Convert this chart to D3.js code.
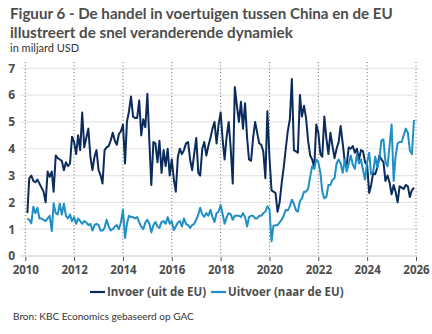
<!DOCTYPE html>
<html>
<head>
<meta charset="utf-8">
<title>Figuur 6</title>
<style>
  html, body { margin: 0; padding: 0; background: #fff; }
  svg { display: block; font-family: "Open Sans", "Noto Sans", sans-serif; }
</style>
</head>
<body>
<script src="https://cdn.jsdelivr.net/npm/d3@7"></script>
<script>
// monthly data, starting February 2010, in billion USD
var startMonth = new Date(2010, 1, 1);

var invoer = [
  1.6, 2.9, 3.0, 2.8, 2.75, 2.85, 2.7, 2.55, 2.4, 2.0, 3.15,            // 2010
  2.95, 3.15, 2.4, 3.75, 3.65, 3.6, 3.55, 3.2, 3.5, 3.35, 3.45, 4.45,   // 2011
  4.25, 3.8, 4.5, 3.95, 5.35, 4.05, 4.4, 4.75, 3.7, 3.2, 3.7, 3.95,     // 2012
  3.2, 3.0, 2.7, 3.95, 4.05, 4.1, 4.3, 4.6, 4.3, 4.15, 4.55, 4.65,      // 2013
  4.9, 3.45, 5.0, 5.4, 5.95, 5.2, 5.15, 5.15, 5.8, 4.5, 5.1, 4.8,       // 2014
  6.05, 4.2, 2.65, 4.25, 4.2, 3.5, 4.3, 3.1, 3.95, 3.35, 4.0, 3.0,      // 2015
  3.6, 2.85, 2.4, 3.7, 4.0, 3.8, 3.95, 4.2, 4.25, 3.6, 3.2, 3.8,        // 2016
  4.4, 3.1, 3.0, 4.0, 4.25, 3.75, 4.1, 4.4, 4.75, 5.0, 4.2, 4.9,        // 2017
  5.35, 4.3, 3.6, 4.45, 5.0, 4.0, 2.7, 6.3, 5.6, 5.0, 5.75, 4.75,       // 2018
  5.7, 4.4, 3.6, 3.55, 4.4, 5.0, 4.6, 4.2, 4.15, 3.9, 2.9, 5.4,         // 2019
  3.7, 2.45, 2.4, 2.35, 1.65, 2.0, 2.7, 3.3, 4.0, 4.65, 5.1, 6.6,       // 2020
  3.95, 3.9, 3.85, 6.0, 5.2, 5.6, 5.15, 4.3, 3.75, 3.6, 3.3, 4.9,       // 2021
  4.6, 3.8, 3.7, 5.2, 4.4, 3.8, 4.6, 4.1, 3.65, 4.0, 4.25, 4.85,        // 2022
  4.2, 3.5, 3.4, 4.05, 4.0, 4.1, 3.85, 4.0, 3.6, 3.95, 3.9, 3.5,        // 2023
  3.4, 2.35, 2.65, 3.1, 3.05, 3.3, 3.75, 3.6, 3.5, 2.8, 3.0, 2.75,      // 2024
  2.3, 2.65, 2.4, 2.0, 2.6, 2.55, 2.5, 2.65, 2.6, 2.2, 2.45, 2.55       // 2025
];

var uitvoer = [
  1.4, 1.35, 1.22, 1.84, 1.6, 1.8, 1.4, 1.4, 1.35, 1.3, 1.4,            // 2010
  1.5, 0.93, 1.97, 1.6, 1.55, 1.95, 1.55, 1.95, 1.5, 1.4, 1.55, 1.3,    // 2011
  1.45, 1.2, 1.4, 1.3, 1.2, 1.3, 1.25, 1.15, 1.2, 0.95, 1.15, 1.2,      // 2012
  1.15, 0.95, 0.95, 1.05, 1.35, 1.1, 0.95, 1.0, 1.1, 1.15, 1.0, 1.25,   // 2013
  1.72, 0.67, 1.2, 1.5, 1.45, 1.45, 1.4, 1.45, 1.25, 1.1, 1.0, 1.25,    // 2014
  1.35, 1.2, 0.88, 1.15, 1.27, 1.1, 1.05, 1.27, 1.3, 1.2, 1.45, 1.2,    // 2015
  1.3, 0.97, 1.1, 1.25, 1.3, 1.1, 1.4, 1.2, 1.15, 1.05, 1.15, 1.2,      // 2016
  1.35, 1.55, 1.8, 1.55, 1.46, 1.6, 1.5, 1.72, 1.46, 1.27, 1.6, 1.65,   // 2017
  1.9, 1.55, 1.2, 1.45, 1.6, 1.55, 1.35, 1.5, 1.5, 1.5, 1.45, 1.6,      // 2018
  1.45, 1.1, 1.45, 1.5, 1.5, 1.4, 1.4, 1.5, 1.5, 1.6, 1.65, 1.85,       // 2019
  1.75, 0.55, 1.13, 1.15, 1.15, 1.25, 1.35, 1.5, 1.72, 1.7, 1.85, 2.1,  // 2020
  1.95, 1.7, 1.65, 2.05, 2.15, 2.4, 2.4, 2.5, 2.95, 3.35, 3.25, 3.6,    // 2021
  3.5, 3.1, 2.4, 2.15, 2.2, 2.65, 2.65, 2.85, 2.9, 3.45, 3.6, 3.45,     // 2022
  3.1, 3.6, 3.15, 3.45, 3.75, 3.4, 3.25, 3.8, 3.45, 3.6, 3.2, 2.85,     // 2023
  3.5, 3.85, 3.05, 3.15, 3.7, 3.3, 3.6, 4.3, 4.35, 3.5, 3.35, 4.1,      // 2024
  4.9, 2.8, 3.7, 4.2, 4.25, 4.25, 4.5, 4.75, 4.6, 3.95, 3.8, 5.07       // 2025
];

var yTicks = [0, 1, 2, 3, 4, 5, 6, 7];
var xTickYears = [2010, 2012, 2014, 2016, 2018, 2020, 2022, 2024, 2026];
var seriesNames = ["Invoer (uit de EU)", "Uitvoer (naar de EU)"];
var seriesColors = ["#0b2b5c", "#1f8fc5"];

var width = 432, height = 334;

var svg = d3.select("body").append("svg")
    .attr("width", width)
    .attr("height", height);

svg.append("rect").attr("width", width).attr("height", height).attr("fill", "#fff");

// put a text at x,y and pick the font size that makes it span the given width
function fitText(str, px, py, targetWidth, opts) {
    var t = svg.append("text").attr("x", px).attr("y", py)
        .attr("font-family", opts.family)
        .attr("font-weight", opts.weight || "normal")
        .attr("fill", opts.fill)
        .attr("font-size", 20)
        .text(str);
    var w = t.node().getComputedTextLength();
    var fs = Math.min(opts.max || 99, 20 * targetWidth / w);
    t.attr("font-size", fs.toFixed(2));
    return t;
}

// titles
fitText("Figuur 6 - De handel in voertuigen tussen China en de EU", 10, 18.5, 383,
    { family: "Lato, 'Open Sans', sans-serif", weight: "bold", fill: "#4d4d4d", max: 15.5 });
fitText("illustreert de snel veranderende dynamiek", 10, 37.5, 283,
    { family: "Lato, 'Open Sans', sans-serif", weight: "bold", fill: "#4d4d4d", max: 15.5 });
fitText("in miljard USD", 10, 51.5, 73,
    { family: "Lato, 'Open Sans', sans-serif", fill: "#333", max: 11 });

var x = d3.scaleTime()
    .domain([new Date(2010, 0, 1), new Date(2026, 0, 1)])
    .range([25.3, 416]);
var y = d3.scaleLinear().domain([0, 7]).range([256, 68.3]);

// horizontal grid
svg.append("g").selectAll("line")
    .data(yTicks)
    .join("line")
    .attr("x1", 20).attr("x2", 418)
    .attr("y1", function(d) { return y(d); })
    .attr("y2", function(d) { return y(d); })
    .attr("stroke", function(d) { return d === 0 ? "#e2e2e2" : "#e6e6e6"; })
    .attr("stroke-width", function(d) { return d === 0 ? 2.2 : 1.2; });

// vertical dotted lines
var xDates = xTickYears.map(function(yr) { return new Date(yr, 0, 1); });
svg.append("g").selectAll("line")
    .data(xDates)
    .join("line")
    .attr("x1", function(d) { return x(d); })
    .attr("x2", function(d) { return x(d); })
    .attr("y1", 62).attr("y2", 255)
    .attr("stroke", "#666")
    .attr("stroke-width", 1)
    .attr("stroke-dasharray", "1,2.4");

// x axis
var xAxis = svg.append("g")
    .attr("transform", "translate(0,257)")
    .call(d3.axisBottom(x).tickValues(xDates).tickSize(4)
        .tickFormat(d3.timeFormat("%Y")));
xAxis.select(".domain").remove();
xAxis.selectAll(".tick line").attr("stroke", "#555");
xAxis.selectAll(".tick text")
    .attr("y", 9)
    .attr("font-family", "'Open Sans', sans-serif")
    .attr("font-size", 11.5).attr("font-weight", "bold").attr("fill", "#4d4d4d");

// y axis labels
var yAxis = svg.append("g")
    .attr("transform", "translate(16,0)")
    .call(d3.axisLeft(y).tickValues(yTicks).tickSize(0).tickFormat(d3.format("d")));
yAxis.select(".domain").remove();
yAxis.selectAll(".tick text")
    .attr("x", -1)
    .attr("font-family", "'Open Sans', sans-serif")
    .attr("font-size", 12).attr("font-weight", "bold").attr("fill", "#4d4d4d");

// lines
function toPoints(values) {
    return values.map(function(v, i) {
        return { date: d3.timeMonth.offset(startMonth, i), value: v };
    });
}
var line = d3.line()
    .x(function(d) { return x(d.date); })
    .y(function(d) { return y(d.value); });

[invoer, uitvoer].forEach(function(values, i) {
    svg.append("path")
        .datum(toPoints(values))
        .attr("fill", "none")
        .attr("stroke", seriesColors[i])
        .attr("stroke-width", 2)
        .attr("stroke-linejoin", "round")
        .attr("d", line);
});

// legend
var legend = svg.append("g").attr("transform", "translate(0,292)");
var lx = 90;
seriesNames.forEach(function(name, i) {
    legend.append("line")
        .attr("x1", lx).attr("x2", lx + 15)
        .attr("y1", 0).attr("y2", 0)
        .attr("stroke", seriesColors[i]).attr("stroke-width", 2.2);
    var t = legend.append("text")
        .attr("x", lx + 17).attr("y", 4)
        .attr("font-size", 11.5).attr("font-weight", "bold").attr("fill", "#4d4d4d")
        .text(name);
    lx += 17 + t.node().getComputedTextLength() + 5;
});

// source
fitText("Bron: KBC Economics gebaseerd op GAC", 13, 320, 181,
    { family: "Lato, 'Open Sans', sans-serif", fill: "#333", max: 11 });
</script>
</body>
</html>
